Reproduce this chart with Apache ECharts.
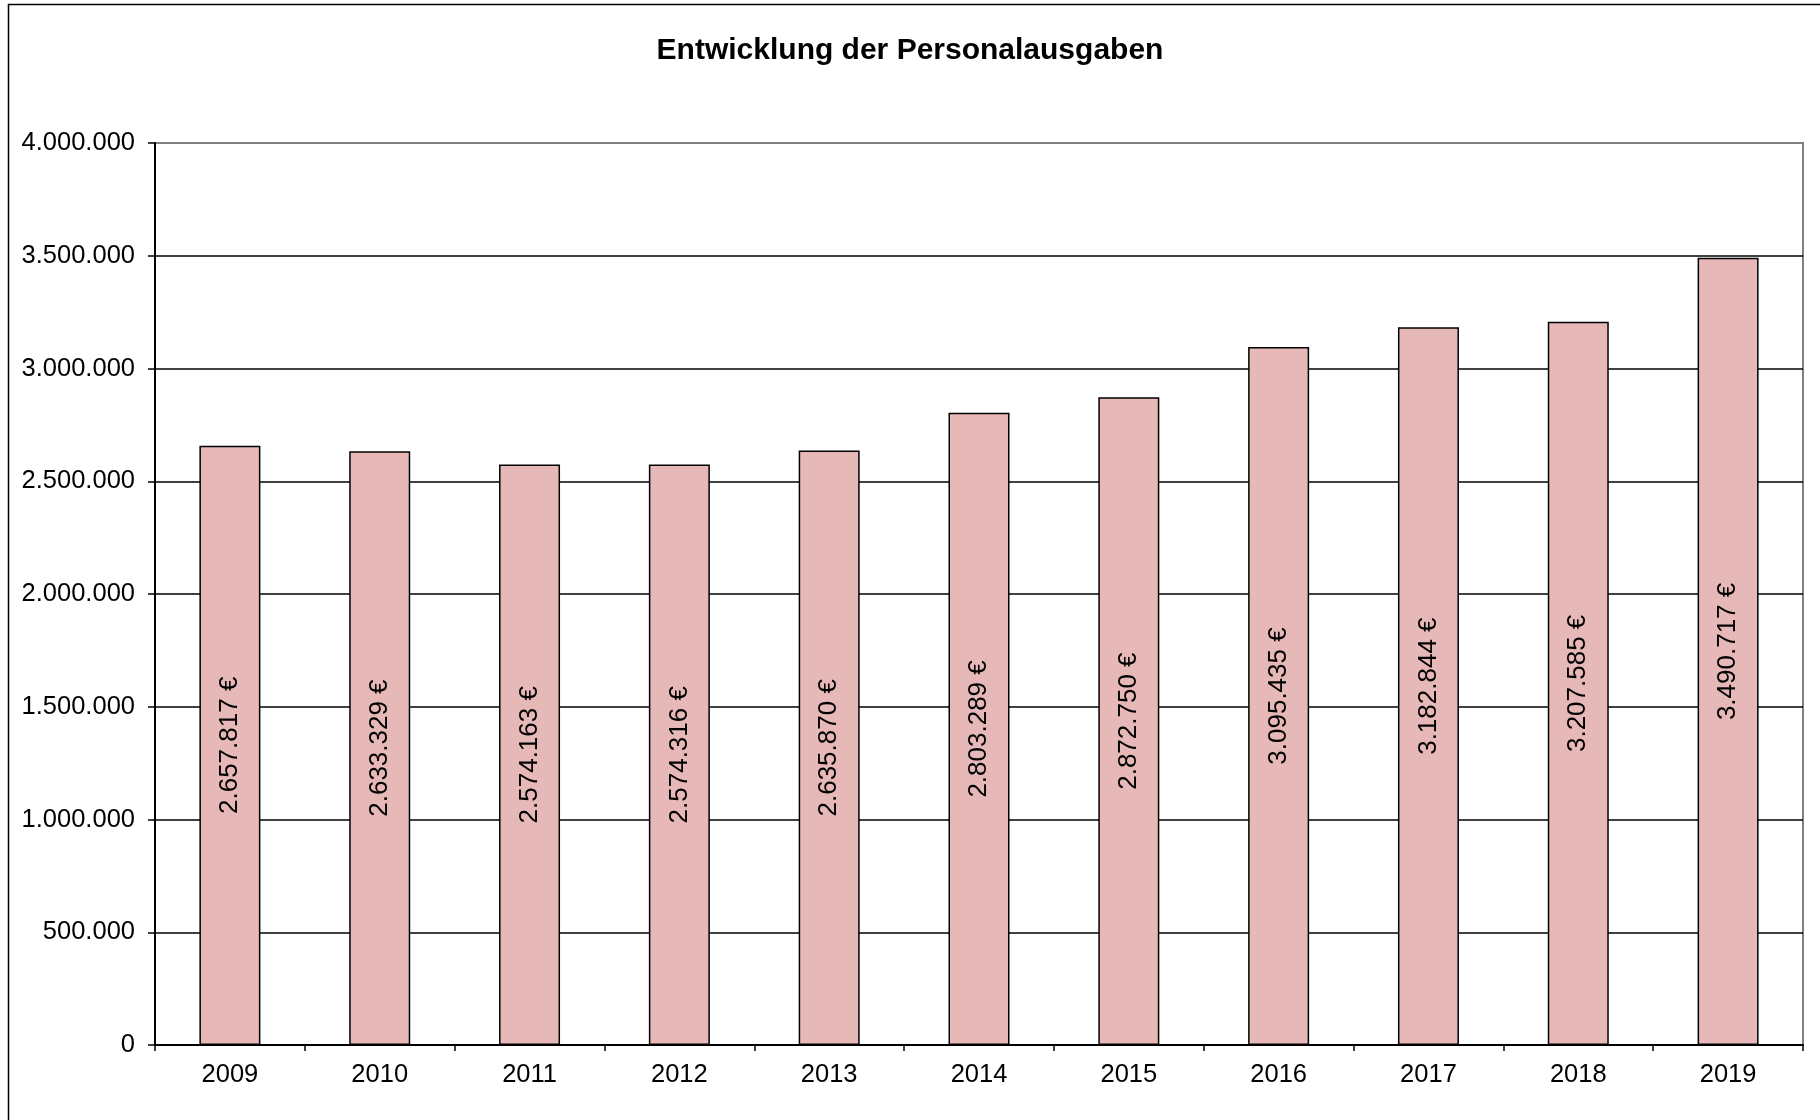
<!DOCTYPE html>
<html>
<head>
<meta charset="utf-8">
<script src="https://cdn.jsdelivr.net/npm/echarts@6/dist/echarts.min.js"></script>
<style>
  html, body { margin: 0; padding: 0; background: #ffffff; }
  #chart { width: 1820px; height: 1120px; }
</style>
</head>
<body>
<div id="chart"></div>
<script>
const title = 'Entwicklung der Personalausgaben';
const years = ['2009', '2010', '2011', '2012', '2013', '2014', '2015', '2016', '2017', '2018', '2019'];
const personalausgaben = [2657817, 2633329, 2574163, 2574316, 2635870, 2803289, 2872750, 3095435, 3182844, 3207585, 3490717];
const yMin = 0;
const yMax = 4000000;
const yStep = 500000;

function de(n) {
  return String(Math.round(n)).replace(/\B(?=(\d{3})+(?!\d))/g, '.');
}

const FONT = '"Liberation Sans", Arial, sans-serif';
const chart = echarts.init(document.getElementById('chart'), null, { renderer: 'canvas' });

chart.setOption({
  backgroundColor: '#ffffff',
  animation: false,
  title: {
    text: title,
    left: 'center',
    top: 31,
    textStyle: { fontFamily: FONT, fontSize: 30, fontWeight: 'bold', color: '#000' }
  },
  graphic: [{
    type: 'polyline',
    shape: { points: [[8.5, 1120], [8.5, 4.5], [1820, 4.5]] },
    style: { stroke: '#000', lineWidth: 1.5, fill: null },
    silent: true
  }],
  grid: {
    left: 155, right: 17, top: 143, bottom: 75,
    show: true, borderColor: '#808080', borderWidth: 2, backgroundColor: '#fff'
  },
  xAxis: {
    type: 'category',
    data: years,
    boundaryGap: true,
    axisLine: { show: true, lineStyle: { color: '#000', width: 2 } },
    axisTick: { show: true, length: 6, lineStyle: { color: '#000', width: 1.5 } },
    axisLabel: { color: '#000', fontFamily: FONT, fontSize: 25.5, margin: 17 },
    splitLine: { show: false }
  },
  yAxis: {
    type: 'value',
    min: yMin, max: yMax, interval: yStep,
    axisLine: { show: true, lineStyle: { color: '#000', width: 2 } },
    axisTick: { show: true, inside: false, length: 7, lineStyle: { color: '#000', width: 1.5 } },
    axisLabel: { color: '#000', fontFamily: FONT, fontSize: 25.5, margin: 20, formatter: v => de(v) },
    splitLine: { show: true, showMaxLine: false, lineStyle: { color: '#000', width: 1.5 } }
  },
  series: [{
    type: 'bar',
    data: personalausgaben,
    barWidth: 61,
    itemStyle: { color: '#E6B8B7', borderColor: '#000', borderWidth: 1.5 },
    label: {
      show: true,
      position: 'inside',
      rotate: 90,
      color: '#000',
      fontFamily: FONT,
      fontSize: 26,
      formatter: p => de(p.value) + ' €'
    }
  }]
});
</script>
</body>
</html>
